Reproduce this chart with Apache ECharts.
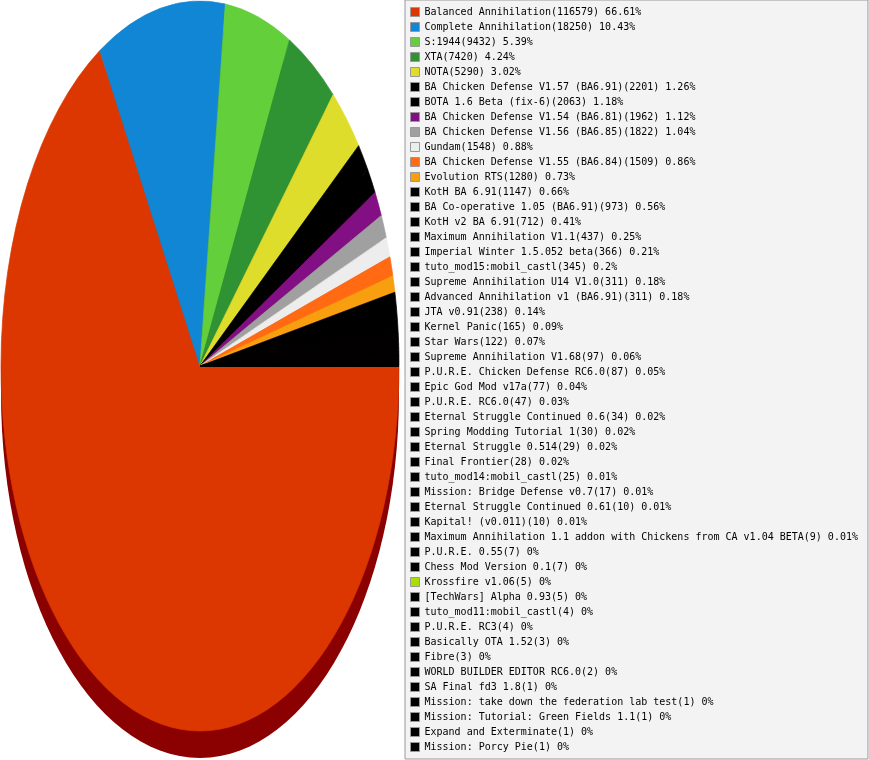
<!DOCTYPE html>
<html>
<head>
<meta charset="utf-8">
<title>Mods</title>
<script src="https://cdn.jsdelivr.net/npm/echarts@6/dist/echarts.min.js"></script>
<style>
    html, body { margin: 0; padding: 0; background: #fff; }
    #modChart { width: 869px; height: 760px; }
</style>
</head>
<body>
<div id="modChart"></div>
<script>
var modNames = [
    "Balanced Annihilation", "Complete Annihilation", "S:1944", "XTA", "NOTA",
    "BA Chicken Defense V1.57 (BA6.91)", "BOTA 1.6 Beta (fix-6)", "BA Chicken Defense V1.54 (BA6.81)",
    "BA Chicken Defense V1.56 (BA6.85)", "Gundam", "BA Chicken Defense V1.55 (BA6.84)", "Evolution RTS",
    "KotH BA 6.91", "BA Co-operative 1.05 (BA6.91)", "KotH v2 BA 6.91", "Maximum Annihilation V1.1",
    "Imperial Winter 1.5.052 beta", "tuto_mod15:mobil_castl", "Supreme Annihilation U14 V1.0",
    "Advanced Annihilation v1 (BA6.91)", "JTA v0.91", "Kernel Panic", "Star Wars",
    "Supreme Annihilation V1.68", "P.U.R.E. Chicken Defense RC6.0", "Epic God Mod v17a", "P.U.R.E. RC6.0",
    "Eternal Struggle Continued 0.6", "Spring Modding Tutorial 1", "Eternal Struggle 0.514", "Final Frontier",
    "tuto_mod14:mobil_castl", "Mission: Bridge Defense v0.7", "Eternal Struggle Continued 0.61",
    "Kapital! (v0.011)", "Maximum Annihilation 1.1 addon with Chickens from CA v1.04 BETA",
    "P.U.R.E. 0.55", "Chess Mod Version 0.1", "Krossfire v1.06", "[TechWars] Alpha 0.93",
    "tuto_mod11:mobil_castl", "P.U.R.E. RC3", "Basically OTA 1.52", "Fibre", "WORLD BUILDER EDITOR RC6.0",
    "SA Final fd3 1.8", "Mission: take down the federation lab test", "Mission: Tutorial: Green Fields 1.1",
    "Expand and Exterminate", "Mission: Porcy Pie"
];

var modGames = [
    116579, 18250, 9432, 7420, 5290, 2201, 2063, 1962, 1822, 1548, 1509, 1280,
    1147, 973, 712, 437, 366, 345, 311, 311, 238, 165, 122, 97, 87, 77, 47,
    34, 30, 29, 28, 25, 17, 10, 10, 9, 7, 7, 5, 5, 4, 4, 3, 3, 2, 1, 1, 1, 1, 1
];

var modColors = [
    '#dc3700', '#1186d5', '#62cf3b', '#2f9233', '#dfdd2b', '#000000', '#000000', '#820f84',
    '#a0a0a0', '#ededed', '#ff6a13', '#f89f10', '#000000', '#000000', '#000000', '#000000',
    '#000000', '#000000', '#000000', '#000000', '#000000', '#000000', '#000000', '#000000',
    '#000000', '#000000', '#000000', '#000000', '#000000', '#000000', '#000000', '#000000',
    '#000000', '#000000', '#000000', '#000000', '#000000', '#000000', '#aadd00', '#000000',
    '#000000', '#000000', '#000000', '#000000', '#000000', '#000000', '#000000', '#000000',
    '#000000', '#000000'
];

// ellipse geometry of the pie
var pieCx = 200, pieCy = 366, pieRx = 199, pieRy = 365, pieDepth = 27;

var total = 0;
for (var i = 0; i < modGames.length; i++) {
    total += modGames[i];
}

// start angle of every slice, clockwise from 3 o'clock
var startAngles = [];
var acc = 0;
for (var i = 0; i < modGames.length; i++) {
    startAngles.push(acc / total * Math.PI * 2);
    acc += modGames[i];
}

var percentText = function(v) {
    return String(Math.round(v / total * 10000) / 100);
};

var modChart = echarts.init(document.getElementById('modChart'));

var series = [{
    // dark side wall under the pie
    type: 'custom',
    coordinateSystem: 'none',
    silent: true,
    data: [1],
    z: 1,
    renderItem: function(params, api) {
        return {
            type: 'group',
            children: [{
                type: 'rect',
                shape: { x: pieCx - pieRx, y: pieCy, width: pieRx * 2, height: pieDepth },
                style: { fill: '#8b0000' }
            }, {
                type: 'ellipse',
                shape: { cx: pieCx, cy: pieCy + pieDepth, rx: pieRx, ry: pieRy },
                style: { fill: '#8b0000' }
            }]
        };
    }
}];

for (var s = 0; s < modNames.length; s++) {
    (function(idx) {
        series.push({
            name: modNames[idx],
            type: 'custom',
            coordinateSystem: 'none',
            silent: true,
            z: 2,
            itemStyle: { color: modColors[idx] },
            data: [modGames[idx]],
            renderItem: function(params, api) {
                var a0 = startAngles[idx];
                var a1 = a0 + api.value(0) / total * Math.PI * 2;
                var style = api.style();
                style.stroke = modColors[idx];
                style.lineWidth = 0.5;
                return {
                    type: 'sector',
                    x: pieCx,
                    y: pieCy,
                    scaleY: pieRy / pieRx,
                    shape: { cx: 0, cy: 0, r0: 0, r: pieRx, startAngle: a0, endAngle: a1, clockwise: true },
                    style: style
                };
            }
        });
    })(s);
}

var option = {
    backgroundColor: '#ffffff',
    animation: false,
    legend: {
        data: modNames,
        orient: 'vertical',
        left: 405,
        top: 0,
        padding: [7, 10, 7, 5],
        itemWidth: 9,
        itemHeight: 9,
        itemGap: 5,
        icon: 'rect',
        selectedMode: false,
        backgroundColor: '#f3f3f3',
        borderColor: '#999999',
        borderWidth: 1,
        itemStyle: {
            borderColor: '#999999',
            borderWidth: 1
        },
        textStyle: {
            fontFamily: 'DejaVu Sans Mono',
            fontSize: 10,
            color: '#000000'
        },
        formatter: function(name) {
            var v = modGames[modNames.indexOf(name)];
            return name + '(' + v + ') ' + percentText(v) + '%';
        }
    },
    series: series
};

modChart.setOption(option);
</script>
</body>
</html>
